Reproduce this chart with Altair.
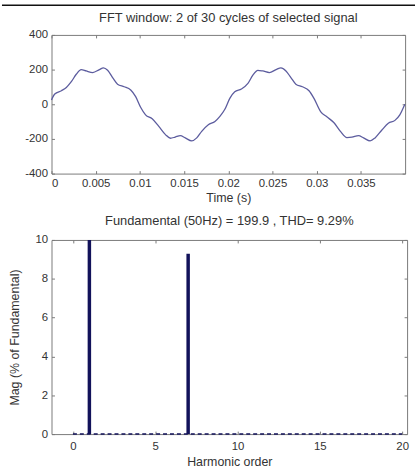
import altair as alt
import pandas as pd

# ---- data ----
time_s = [0, 0.00037, 0.00112, 0.00168, 0.00224, 0.0028, 0.00336, 0.00392, 0.00467,
          0.00542, 0.00587, 0.00635, 0.00691, 0.00747, 0.00822, 0.00896, 0.00952,
          0.01008, 0.01064, 0.01139, 0.01214, 0.01289, 0.01345, 0.0140, 0.01457,
          0.01513, 0.01587, 0.01643, 0.01699, 0.01774, 0.01849, 0.01905, 0.01961,
          0.02017, 0.02073, 0.02148, 0.02222, 0.02278, 0.02334, 0.0239, 0.02465,
          0.0254, 0.02596, 0.02652, 0.02708, 0.02764, 0.02838, 0.02913, 0.02969,
          0.03044, 0.03118, 0.03193, 0.03268, 0.03342, 0.03398, 0.03473, 0.0353,
          0.03604, 0.0366, 0.03735, 0.0381, 0.03885, 0.0394, 0.03997]
signal = [25, 59, 78, 97, 130, 173, 200, 192, 183,
          200, 210, 196, 154, 116, 101, 82, 44,
          -17, -61, -84, -128, -175, -196, -189, -181,
          -194, -211, -194, -156, -118, -99, -70, -29,
          34, 72, 88, 120, 168, 196, 192, 183,
          200, 210, 192, 154, 116, 101, 78, 34,
          -42, -74, -105, -156, -192, -190, -181, -194,
          -211, -194, -150, -109, -93, -61, 0]

harm_order = [1, 7]
harm_mag = [100, 9.29]
base_start = [0]
base_end = [20]

x_ticks_top = [0, 0.005, 0.01, 0.015, 0.02, 0.025, 0.03, 0.035]
y_ticks_top = [-400, -200, 0, 200, 400]
x_ticks_bot = [0, 5, 10, 15, 20]
y_ticks_bot = [0, 2, 4, 6, 8, 10]

title_top = "FFT window: 2 of 30 cycles of selected signal"
title_bot = "Fundamental (50Hz) = 199.9 , THD= 9.29%"

FONT = "Liberation Sans"
TXT = "#333333"
TICK = "#7a7a7a"
LINE = "#5c5c9e"
NAVY = "#12125a"


def axis(values, orient, title="", labels=True, label_pad=4, title_pad=3):
    kw = dict(values=values, orient=orient, domain=False, ticks=False, grid=True,
              gridDash=[3, 1000], gridColor=TICK, gridWidth=1, gridOpacity=1,
              labels=labels, labelFont=FONT, labelFontSize=11.5, labelColor=TXT,
              labelPadding=label_pad, labelExpr="'' + datum.value", minExtent=0,
              titleFont=FONT, titleFontSize=12.5, titleFontWeight="normal",
              titleColor=TXT, titlePadding=title_pad, title=title if title else None)
    return alt.Axis(**kw)


sig_df = pd.DataFrame({"t": time_s, "v": signal})
harm_df = pd.DataFrame({"h": harm_order, "m": harm_mag})
base_df = pd.DataFrame({"x0": base_start, "x1": base_end})
one = pd.DataFrame({"k": [0]})

xs_top = alt.Scale(domain=[0, 0.04], nice=False, zero=False)
ys_top = alt.Scale(domain=[-400, 400], nice=False)

line = alt.Chart(sig_df).mark_line(color=LINE, strokeWidth=1.3, interpolate="monotone").encode(
    x=alt.X("t:Q", scale=xs_top, axis=axis(x_ticks_top, "bottom", "Time (s)")),
    y=alt.Y("v:Q", scale=ys_top, axis=axis(y_ticks_top, "left")),
)
mirror_top = alt.Chart(sig_df).mark_line(opacity=0, clip=True).encode(
    x=alt.X("t:Q", scale=xs_top, axis=axis(x_ticks_top, "top", labels=False)),
    y=alt.Y("v:Q", scale=ys_top, axis=axis(y_ticks_top, "right", labels=False)),
)
border = alt.Chart(one).mark_rule(color="#111111", strokeWidth=1.5).encode(
    x=alt.value(-50), x2=alt.value(367), y=alt.value(-30)
)

top = alt.layer(line, mirror_top, border).resolve_axis(x="independent", y="independent").properties(
    width=357, height=140,
    title=alt.TitleParams(title_top, font=FONT, fontSize=13, fontWeight="normal", color=TXT, offset=-21),
)

xs_bot = alt.Scale(domain=[-1, 20], nice=False, zero=False)
ys_bot = alt.Scale(domain=[0, 10], nice=False)

bars = alt.Chart(harm_df).mark_bar(color=NAVY, size=3.5, clip=True).encode(
    x=alt.X("h:Q", scale=xs_bot, axis=axis(x_ticks_bot, "bottom", "Harmonic order", label_pad=7)),
    y=alt.Y("m:Q", scale=ys_bot, axis=axis(y_ticks_bot, "left", "Mag (% of Fundamental)", title_pad=14)),
)
mirror_bot = alt.Chart(base_df).mark_rule(opacity=0, clip=True).encode(
    x=alt.X("x0:Q", scale=xs_bot, axis=axis(x_ticks_bot, "top", labels=False)),
    y=alt.Y("x0:Q", scale=ys_bot, axis=axis(y_ticks_bot, "right", labels=False)),
)
baseline = alt.Chart(base_df).mark_rule(color=NAVY, strokeWidth=1.5, strokeDash=[4, 3]).encode(
    x=alt.X("x0:Q", scale=xs_bot, axis=None),
    x2="x1:Q",
    y=alt.Y(datum=0, axis=None),
)

bottom = alt.layer(bars, mirror_bot, baseline).resolve_axis(x="independent", y="independent").properties(
    width=359, height=196,
    title=alt.TitleParams(title_bot, font=FONT, fontSize=13, fontWeight="normal", color=TXT, offset=6),
)

chart = alt.vconcat(top, bottom, spacing=9).properties(
    padding={"left": 0, "top": 1, "right": 0, "bottom": 0},
    background="white",
).configure_view(stroke=TICK, strokeWidth=1)

chart.save("out.html", embed_options={"renderer": "svg", "actions": False})
